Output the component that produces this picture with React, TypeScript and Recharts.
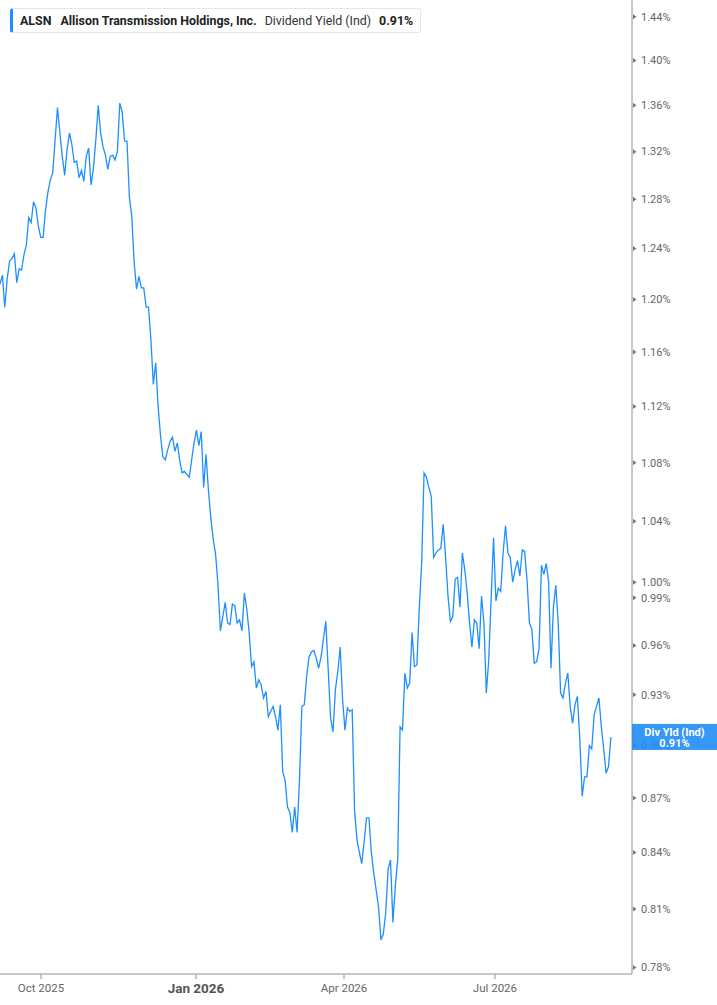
import React from "react"
import { LineChart, Line, XAxis, YAxis, ReferenceDot } from "recharts"

// indicated dividend yield (%) per trading day, Sep 2025 -> Sep 2026
const yieldPct = [
  1.212, 1.219, 1.194, 1.216, 1.23, 1.232, 1.236, 1.213, 1.224, 1.223,
  1.235, 1.243, 1.265, 1.261, 1.278, 1.273, 1.258, 1.249, 1.249, 1.271,
  1.286, 1.296, 1.302, 1.33, 1.358, 1.336, 1.316, 1.3, 1.322, 1.336,
  1.326, 1.311, 1.312, 1.298, 1.304, 1.295, 1.316, 1.323, 1.292, 1.306,
  1.33, 1.36, 1.336, 1.324, 1.317, 1.305, 1.316, 1.317, 1.313, 1.32,
  1.362, 1.354, 1.329, 1.329, 1.282, 1.266, 1.229, 1.208, 1.218, 1.209,
  1.209, 1.194, 1.194, 1.169, 1.136, 1.152, 1.12, 1.099, 1.084, 1.082,
  1.089, 1.095, 1.098, 1.088, 1.094, 1.082, 1.073, 1.074, 1.072, 1.07,
  1.082, 1.094, 1.103, 1.092, 1.102, 1.063, 1.086, 1.061, 1.042, 1.028,
  1.018, 0.998, 0.969, 0.978, 0.987, 0.974, 0.973, 0.986, 0.985, 0.974,
  0.976, 0.969, 0.993, 0.983, 0.968, 0.947, 0.95, 0.934, 0.939, 0.936,
  0.928, 0.932, 0.917, 0.92, 0.923, 0.917, 0.909, 0.924, 0.885, 0.88,
  0.865, 0.862, 0.851, 0.865, 0.851, 0.88, 0.923, 0.924, 0.941, 0.953,
  0.956, 0.957, 0.952, 0.946, 0.953, 0.964, 0.975, 0.945, 0.916, 0.908,
  0.933, 0.944, 0.959, 0.927, 0.909, 0.922, 0.92, 0.921, 0.863, 0.847,
  0.84, 0.834, 0.846, 0.859, 0.859, 0.84, 0.829, 0.82, 0.811, 0.794,
  0.797, 0.808, 0.831, 0.836, 0.803, 0.822, 0.836, 0.911, 0.909, 0.943,
  0.934, 0.937, 0.968, 0.947, 0.948, 0.983, 1.012, 1.073, 1.07, 1.063,
  1.057, 1.016, 1.019, 1.021, 1.022, 1.038, 1.016, 0.991, 0.975, 0.978,
  1.002, 1.003, 0.984, 1.019, 1.008, 0.993, 0.974, 0.959, 0.976, 0.974,
  0.958, 0.991, 0.974, 0.931, 0.951, 0.989, 1.029, 0.988, 0.996, 0.994,
  1.019, 1.037, 1.019, 1.016, 1.0, 1.008, 1.014, 1.004, 1.021, 1.02,
  1.001, 0.974, 0.97, 0.949, 0.95, 0.958, 1.011, 1.005, 1.012, 1.0,
  0.946, 0.984, 0.998, 0.974, 0.931, 0.928, 0.937, 0.943, 0.923, 0.913,
  0.924, 0.929, 0.904, 0.871, 0.882, 0.882, 0.9, 0.898, 0.918, 0.923,
  0.928, 0.911, 0.898, 0.884, 0.888, 0.905,
]

const currentYield = 0.91

// trading-day index where each labelled month starts
const monthTicks = [17.1, 81.8, 143.6, 206.6]
const monthLabels = ["Oct 2025", "Jan 2026", "Apr 2026", "Jul 2026"]
const boldMonth = "Jan 2026"

const yTicks = [
  1.44, 1.4, 1.36, 1.32, 1.28, 1.24, 1.2, 1.16, 1.12, 1.08, 1.04, 1.0,
  0.99, 0.96, 0.93, 0.9, 0.87, 0.84, 0.81, 0.78,
]

const BLUE = "#1e8fff"
const FONT = "Roboto, 'Noto Sans', sans-serif"

const data = yieldPct.map((v, i) => ({ i, v }))
const last = data[data.length - 1]

function YTick({ x, y, payload }: any) {
  return (
    <g>
      <path d={`M${x + 1},${y - 2.5} L${x + 4.5},${y} L${x + 1},${y + 2.5} Z`} fill="#777" />
      <text x={x + 9} y={y} dy="0.35em" fontSize={11} fill="#666" fontFamily={FONT}>
        {payload.value.toFixed(2)}%
      </text>
    </g>
  )
}

function XTick({ x, y, index }: any) {
  const label = monthLabels[index] ?? ""
  const bold = label === boldMonth
  return (
    <text
      x={x}
      y={y + 9}
      dy="0.35em"
      textAnchor="middle"
      fontSize={bold ? 13.5 : 11.5}
      fontWeight={bold ? 700 : 400}
      fill={bold ? "#555" : "#666"}
      fontFamily={FONT}
    >
      {label}
    </text>
  )
}

// etiqueta azul colada no eixo com o último valor
function LastValueTag({ cy }: any) {
  const left = 632
  return (
    <g>
      <rect x={left} y={cy - 13} width={85} height={26} fill="#1f8cf5" fillOpacity={0.9} />
      <text x={left + 42.5} y={cy - 5} dy="0.35em" textAnchor="middle" fill="#fff" fontSize={11} fontWeight={700} fontFamily={FONT}>
        Div Yld (Ind)
      </text>
      <text x={left + 42.5} y={cy + 6} dy="0.35em" textAnchor="middle" fill="#fff" fontSize={11} fontWeight={700} fontFamily={FONT}>
        {currentYield.toFixed(2)}%
      </text>
    </g>
  )
}

export default function App() {
  return (
    <div style={{ position: "absolute", left: 0, top: 0, width: 717, height: 1005, background: "#fff" }}>
      <LineChart width={717} height={1005} data={data} margin={{ top: 0, right: 0, bottom: 0, left: 0 }}>
        <XAxis
          dataKey="i"
          type="number"
          domain={[0, 263.8]}
          ticks={monthTicks}
          interval={0}
          height={31}
          tickSize={5}
          tickMargin={0}
          axisLine={{ stroke: "#b3b3b3", strokeWidth: 1.5 }}
          tickLine={{ stroke: "#b3b3b3", strokeWidth: 1.5 }}
          tick={<XTick />}
          allowDataOverflow
        />
        <YAxis
          orientation="right"
          type="number"
          scale="log"
          domain={[0.7767, 1.4556]}
          ticks={yTicks}
          interval={0}
          width={85}
          tickSize={0}
          tickMargin={0}
          axisLine={{ stroke: "#b3b3b3", strokeWidth: 1.5 }}
          tickLine={false}
          tick={<YTick />}
          allowDataOverflow
        />
        <Line
          type="linear"
          dataKey="v"
          stroke={BLUE}
          strokeWidth={1.3}
          dot={false}
          activeDot={false}
          isAnimationActive={false}
        />
        <ReferenceDot
          x={last.i}
          y={last.v}
          ifOverflow="visible"
          zIndex={3000}
          shape={(p: any) => <LastValueTag {...p} />}
        />
      </LineChart>
      <div
        style={{
          position: "absolute",
          left: 10,
          top: 8,
          width: 411,
          height: 25,
          boxSizing: "border-box",
          border: "1px solid #e6e6e6",
          borderLeft: `3px solid ${BLUE}`,
          borderRadius: 3,
          background: "#fff",
          display: "flex",
          alignItems: "center",
          paddingLeft: 7,
          fontFamily: FONT,
          fontSize: 12.4,
          color: "#222",
          whiteSpace: "nowrap",
        }}
      >
        <span style={{ fontWeight: 700 }}>ALSN</span>
        <span style={{ fontWeight: 700, marginLeft: 9 }}>Allison Transmission Holdings, Inc.</span>
        <span style={{ marginLeft: 8, color: "#333" }}>Dividend Yield (Ind)</span>
        <span style={{ fontWeight: 700, marginLeft: 8 }}>{currentYield.toFixed(2)}%</span>
      </div>
    </div>
  )
}
